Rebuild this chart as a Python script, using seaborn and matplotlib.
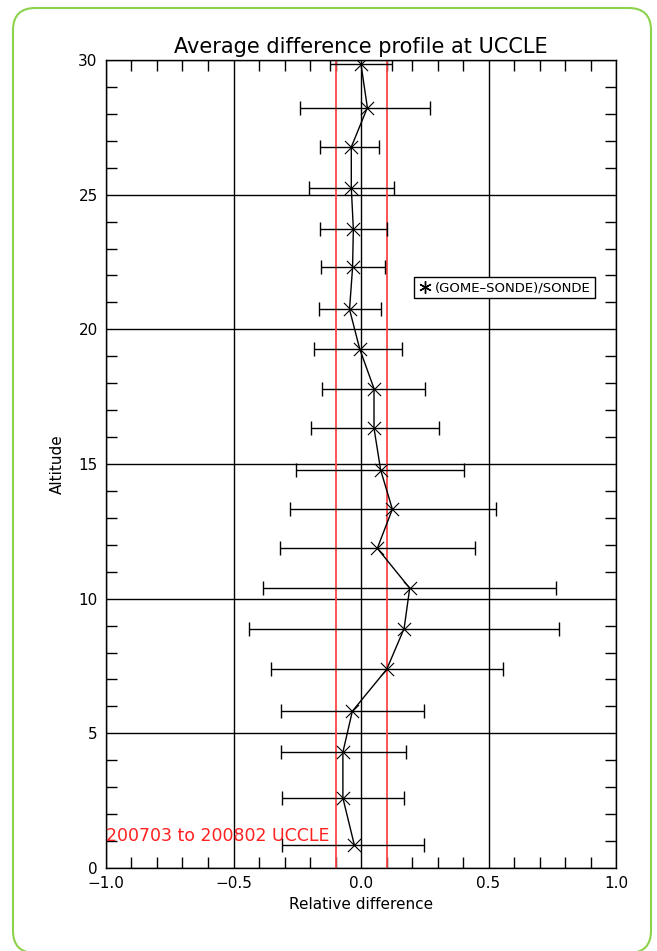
import numpy as np
import pandas as pd
import matplotlib
matplotlib.use("Agg")
import matplotlib.pyplot as plt
from matplotlib.patches import FancyBboxPatch
from matplotlib.lines import Line2D
from matplotlib.ticker import MultipleLocator, FuncFormatter
import seaborn as sns

# values
altitude = [0.85, 2.6, 4.3, 5.82, 7.38, 8.89, 10.39, 11.87, 13.32, 14.78,
            16.33, 17.8, 19.27, 20.74, 22.3, 23.72, 25.25, 26.77, 28.23, 29.84]
rel_diff = [-0.026, -0.071, -0.071, -0.034, 0.101, 0.169, 0.191, 0.064, 0.123, 0.077,
            0.051, 0.051, -0.005, -0.045, -0.033, -0.030, -0.038, -0.038, 0.025, 0.0]
bar_low = [-0.308, -0.308, -0.314, -0.314, -0.354, -0.438, -0.383, -0.319, -0.279, -0.254,
           -0.198, -0.154, -0.185, -0.166, -0.158, -0.162, -0.204, -0.162, -0.240, -0.122]
bar_high = [0.248, 0.168, 0.176, 0.248, 0.557, 0.777, 0.763, 0.449, 0.529, 0.402,
            0.306, 0.250, 0.162, 0.080, 0.093, 0.100, 0.130, 0.072, 0.271, 0.123]
limits = [-0.1, 0.1]

df = pd.DataFrame({"alt": altitude, "diff": rel_diff, "lo": bar_low, "hi": bar_high})

sns.set_style("white")
plt.rcParams["font.family"] = ["DejaVu Sans"]
plt.rcParams["text.color"] = "black"
plt.rcParams["axes.labelcolor"] = "black"
plt.rcParams["xtick.color"] = "black"
plt.rcParams["ytick.color"] = "black"

fig = plt.figure(figsize=(6.57, 9.51), dpi=100)

# rounded green frame round the whole picture
frame = FancyBboxPatch((13 / 657, 1 - 953 / 951), 638 / 657, 945 / 951,
                       boxstyle="round,pad=0,rounding_size=0.034",
                       transform=fig.transFigure, facecolor="none",
                       edgecolor="#8cd24a", linewidth=1.5, mutation_aspect=657 / 951)
fig.patches.append(frame)

ax = fig.add_axes([106 / 657, 1 - 868 / 951, 510 / 657, 808 / 951])

# error bars
xerr = np.array([df["diff"] - df["lo"], df["hi"] - df["diff"]])
ax.errorbar(df["diff"], df["alt"], xerr=xerr, fmt="none", ecolor="black",
            elinewidth=1, capsize=5, capthick=1, zorder=3)

# profile line and markers
sns.lineplot(data=df, x="diff", y="alt", sort=False, estimator=None, orient="y",
             color="black", linewidth=1, ax=ax, zorder=4)
sns.scatterplot(data=df, x="diff", y="alt", marker="x", s=90, color="black",
                linewidth=0.8, ax=ax, zorder=5)

# +-10% limits
for v in limits:
    ax.axvline(v, color="#ff4545", linewidth=1.3, zorder=2)

ax.set_xlim(-1, 1)
ax.set_ylim(0, 30)
ax.xaxis.set_major_locator(MultipleLocator(0.5))
ax.xaxis.set_minor_locator(MultipleLocator(0.1))
ax.yaxis.set_major_locator(MultipleLocator(5))
ax.yaxis.set_minor_locator(MultipleLocator(1))
ax.xaxis.set_major_formatter(FuncFormatter(lambda v, p: f"{v:.1f}".replace("-", "\u2212")))
ax.grid(True, which="major", color="black", linewidth=1)
ax.tick_params(which="minor", direction="in", length=8, width=1, color="black",
               top=True, right=True, bottom=True, left=True)
ax.tick_params(which="major", direction="in", length=0, labelsize=11, pad=6)
for s in ax.spines.values():
    s.set_color("black")
    s.set_linewidth(1)

ax.set_title("Average difference profile at UCCLE", fontsize=15, pad=5)
ax.set_xlabel("Relative difference", fontsize=11, labelpad=4)
ax.set_ylabel("Altitude", fontsize=11, labelpad=10)

ax.text(-1.0, 1.2, "200703 to 200802 UCCLE", color="#ff2020", fontsize=12.5,
        ha="left", va="center", zorder=6)

handle = Line2D([], [], linestyle="none", marker=(6, 2, 0), markersize=9,
                color="black", markeredgewidth=1)
leg = ax.legend([handle], ["(GOME\u2013SONDE)/SONDE"], loc="upper left",
                bbox_to_anchor=(0.604, 0.731), frameon=True, fancybox=False,
                edgecolor="black", framealpha=1, fontsize=9.5, borderpad=0.3,
                handletextpad=0.3, handlelength=1.0, borderaxespad=0)
leg.get_frame().set_linewidth(1)
leg.set_zorder(7)

fig.savefig("out.png", dpi=100, facecolor="white")
